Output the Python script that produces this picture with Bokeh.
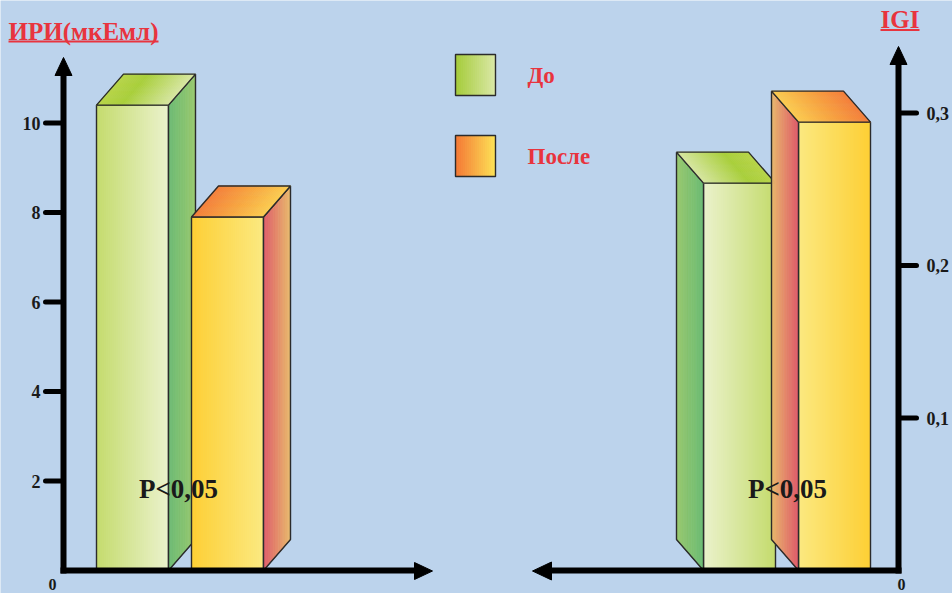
from bokeh.plotting import figure
from bokeh.models import Range1d
from bokeh.core.properties import value
from bokeh.embed import file_html
from bokeh.resources import INLINE

# ---- data ----
groups = ["До", "После"]
iri_values = [10.4, 7.9]          # ИРИ, мкЕ/мл
igi_values = [0.254, 0.294]       # IGI
iri_ticks = [2, 4, 6, 8, 10]
iri_tick_labels = ["2", "4", "6", "8", "10"]
igi_ticks = [0.1, 0.2, 0.3]
igi_tick_labels = ["0,1", "0,2", "0,3"]
p_text = "P<0,05"
iri_title = "ИРИ(мкЕмл)"
igi_title = "IGI"

# ---- layout / style ----
W, H = 952, 593
BASE = 570.0          # baseline, px from top
IRI_PX = 44.75        # px per ИРИ unit
IGI_PX = 1525.0       # px per IGI unit
BAR_W = 72
DEPTH_X = 27
DEPTH_Y = 31
BG = "#bcd3ec"
OUTLINE = "#2b2b2b"
RED = "#e8343e"
FONT = value("Liberation Serif")

iri_range = Range1d(-(H - BASE) / IRI_PX, BASE / IRI_PX)
igi_range = Range1d(-(H - BASE) / IGI_PX, BASE / IGI_PX)


def py(pix):
    """vertical page position -> ИРИ axis units"""
    return (BASE - pix) / IRI_PX


p = figure(width=W, height=H, x_range=Range1d(0, W), y_range=iri_range,
           x_axis_type=None, y_axis_type=None, output_backend="svg",
           toolbar_location=None, min_border=0,
           background_fill_color=BG, border_fill_color=BG, outline_line_color=None)
p.grid.visible = False
p.extra_y_ranges = {"igi": igi_range}


def hex_rgb(h):
    h = h.lstrip("#")
    return tuple(int(h[i:i + 2], 16) for i in (0, 2, 4))


def ramp(stops, t):
    for (t0, c0), (t1, c1) in zip(stops, stops[1:]):
        if t <= t1:
            f = (t - t0) / (t1 - t0) if t1 > t0 else 0.0
            a, b = hex_rgb(c0), hex_rgb(c1)
            return "#%02x%02x%02x" % tuple(round(a[k] + (b[k] - a[k]) * f) for k in range(3))
    return stops[-1][1]


def lerp(a, b, t):
    return (a[0] + (b[0] - a[0]) * t, a[1] + (b[1] - a[1]) * t)


def shade_face(A, B, C, D, stops, n, rname):
    """quad A-B-C-D filled with a gradient running from edge AD to edge BC"""
    xs, ys, cols = [], [], []
    for i in range(n):
        t0, t1 = i / n, (i + 1) / n
        pts = [lerp(A, B, t0), lerp(A, B, t1), lerp(D, C, t1), lerp(D, C, t0)]
        xs.append([q[0] for q in pts])
        ys.append([q[1] for q in pts])
        cols.append(ramp(stops, (i + 0.5) / n))
    p.patches(xs, ys, fill_color=cols, line_color=cols, line_width=0.8, y_range_name=rname)
    p.patches([[A[0], B[0], C[0], D[0]]], [[A[1], B[1], C[1], D[1]]],
              fill_color=None, line_color=OUTLINE, line_width=1.4, y_range_name=rname)


def bar3d(x0, val, px_per_unit, direction, rname, front, side, top):
    dy = DEPTH_Y / px_per_unit
    dx = DEPTH_X * direction
    w = BAR_W
    shade_face((x0, 0), (x0 + w, 0), (x0 + w, val), (x0, val), front, 36, rname)
    if direction > 0:
        shade_face((x0 + w, 0), (x0 + w + dx, dy), (x0 + w + dx, val + dy), (x0 + w, val), side, 16, rname)
    else:
        shade_face((x0 + dx, dy), (x0, 0), (x0, val), (x0 + dx, val + dy), side, 16, rname)
    shade_face((x0, val), (x0 + w, val), (x0 + w + dx, val + dy), (x0 + dx, val + dy), top, 36, rname)


# gradient palettes
GREEN_FRONT = [(0, "#c4db6c"), (1, "#ebf2cc")]
GREEN_SIDE = [(0, "#6cbb74"), (1, "#9ac96e")]
GREEN_TOP = [(0, "#b8d548"), (0.35, "#a9cf3a"), (1, "#d8e6a2")]
ORANGE_FRONT = [(0, "#fecf34"), (1, "#fbe980")]
ORANGE_SIDE = [(0, "#df5a69"), (1, "#e9ba6c")]
ORANGE_TOP = [(0, "#f47e3a"), (0.5, "#f8a540"), (1, "#fccd50")]


def mirror(stops):
    return [(1 - t, c) for t, c in reversed(stops)]


# left panel: ИРИ
left_x = [96, 191]
left_styles = [(GREEN_FRONT, GREEN_SIDE, GREEN_TOP), (ORANGE_FRONT, ORANGE_SIDE, ORANGE_TOP)]
for x0, v, st in zip(left_x, iri_values, left_styles):
    bar3d(x0, v, IRI_PX, +1, "default", *st)

# right panel: IGI (mirrored, depth to the left)
right_x = [703, 798]
for x0, v, st in zip(right_x, igi_values, left_styles):
    bar3d(x0, v, IGI_PX, -1, "igi", *[mirror(s) for s in st])

# ---- axes ----
AX = dict(line_color="black", line_width=6)
# left vertical + arrow
p.line([63, 63], [py(BASE + 3), py(74)], **AX)
p.patch([54.5, 71.5, 63], [py(75), py(75), py(57)], fill_color="black", line_color="black")
# left horizontal + arrow
p.line([60, 416], [0, 0], **AX)
p.patch([414, 414, 432], [py(562), py(579), py(570.5)], fill_color="black", line_color="black")
# right vertical + arrow
p.line([898, 898], [py(BASE + 3), py(63)], **AX)
p.patch([889.5, 906.5, 898], [py(64), py(64), py(46)], fill_color="black", line_color="black")
# right horizontal + arrow
p.line([549, 901], [0, 0], **AX)
p.patch([551, 551, 532], [py(561.5), py(579.5), py(570.5)], fill_color="black", line_color="black")

# ticks
p.segment(x0=[45] * len(iri_ticks), y0=iri_ticks, x1=[63] * len(iri_ticks), y1=iri_ticks,
          line_color="black", line_width=5, line_cap="round")
p.text(x=[40] * len(iri_ticks), y=iri_ticks, text=iri_tick_labels, text_font=FONT,
       text_font_style="bold", text_font_size="18px", text_align="right",
       text_baseline="middle", text_color="#1a1a1a")
p.segment(x0=[898] * len(igi_ticks), y0=igi_ticks, x1=[916] * len(igi_ticks), y1=igi_ticks,
          line_color="black", line_width=5, line_cap="round", y_range_name="igi")
p.text(x=[926] * len(igi_ticks), y=igi_ticks, text=igi_tick_labels, text_font=FONT,
       text_font_style="bold", text_font_size="18px", text_align="left",
       text_baseline="middle", text_color="#1a1a1a", y_range_name="igi")
p.text(x=[52, 901], y=[py(589)] * 2, text=["0", "0"], text_font=FONT, text_font_style="bold",
       text_font_size="16px", text_align="center", text_baseline="bottom", text_color="#1a1a1a")

# significance labels
p.text(x=[178, 787], y=[py(488)] * 2, text=[p_text] * 2, text_font=FONT,
       text_font_style="bold", text_font_size="27px", text_align="center",
       text_baseline="middle", text_color="#1a1a1a")

# titles with underline
p.text(x=[8], y=[py(31)], text=[iri_title], text_font=FONT, text_font_style="bold",
       text_font_size="25px", text_align="left", text_baseline="middle", text_color=RED)
p.line([8, 158], [py(41), py(41)], line_color=RED, line_width=2)
p.text(x=[880], y=[py(19)], text=[igi_title], text_font=FONT, text_font_style="bold",
       text_font_size="25px", text_align="left", text_baseline="middle", text_color=RED)
p.line([880, 919], [py(29.5), py(29.5)], line_color=RED, line_width=2)

# legend
LEG_GREEN = [(0, "#a4cb38"), (1, "#dae8a6")]
LEG_ORANGE = [(0, "#f47634"), (1, "#fde255")]
for (top_px, stops, name) in [(54, LEG_GREEN, groups[0]), (135, LEG_ORANGE, groups[1])]:
    a, b = py(top_px + 41), py(top_px)
    shade_face((455, a), (495, a), (495, b), (455, b), stops, 20, "default")
    p.text(x=[527], y=[py(top_px + 21)], text=[name], text_font=FONT, text_font_style="bold",
           text_font_size="23px", text_align="left", text_baseline="middle", text_color=RED)

open("out.html", "w").write(file_html(p, INLINE))
